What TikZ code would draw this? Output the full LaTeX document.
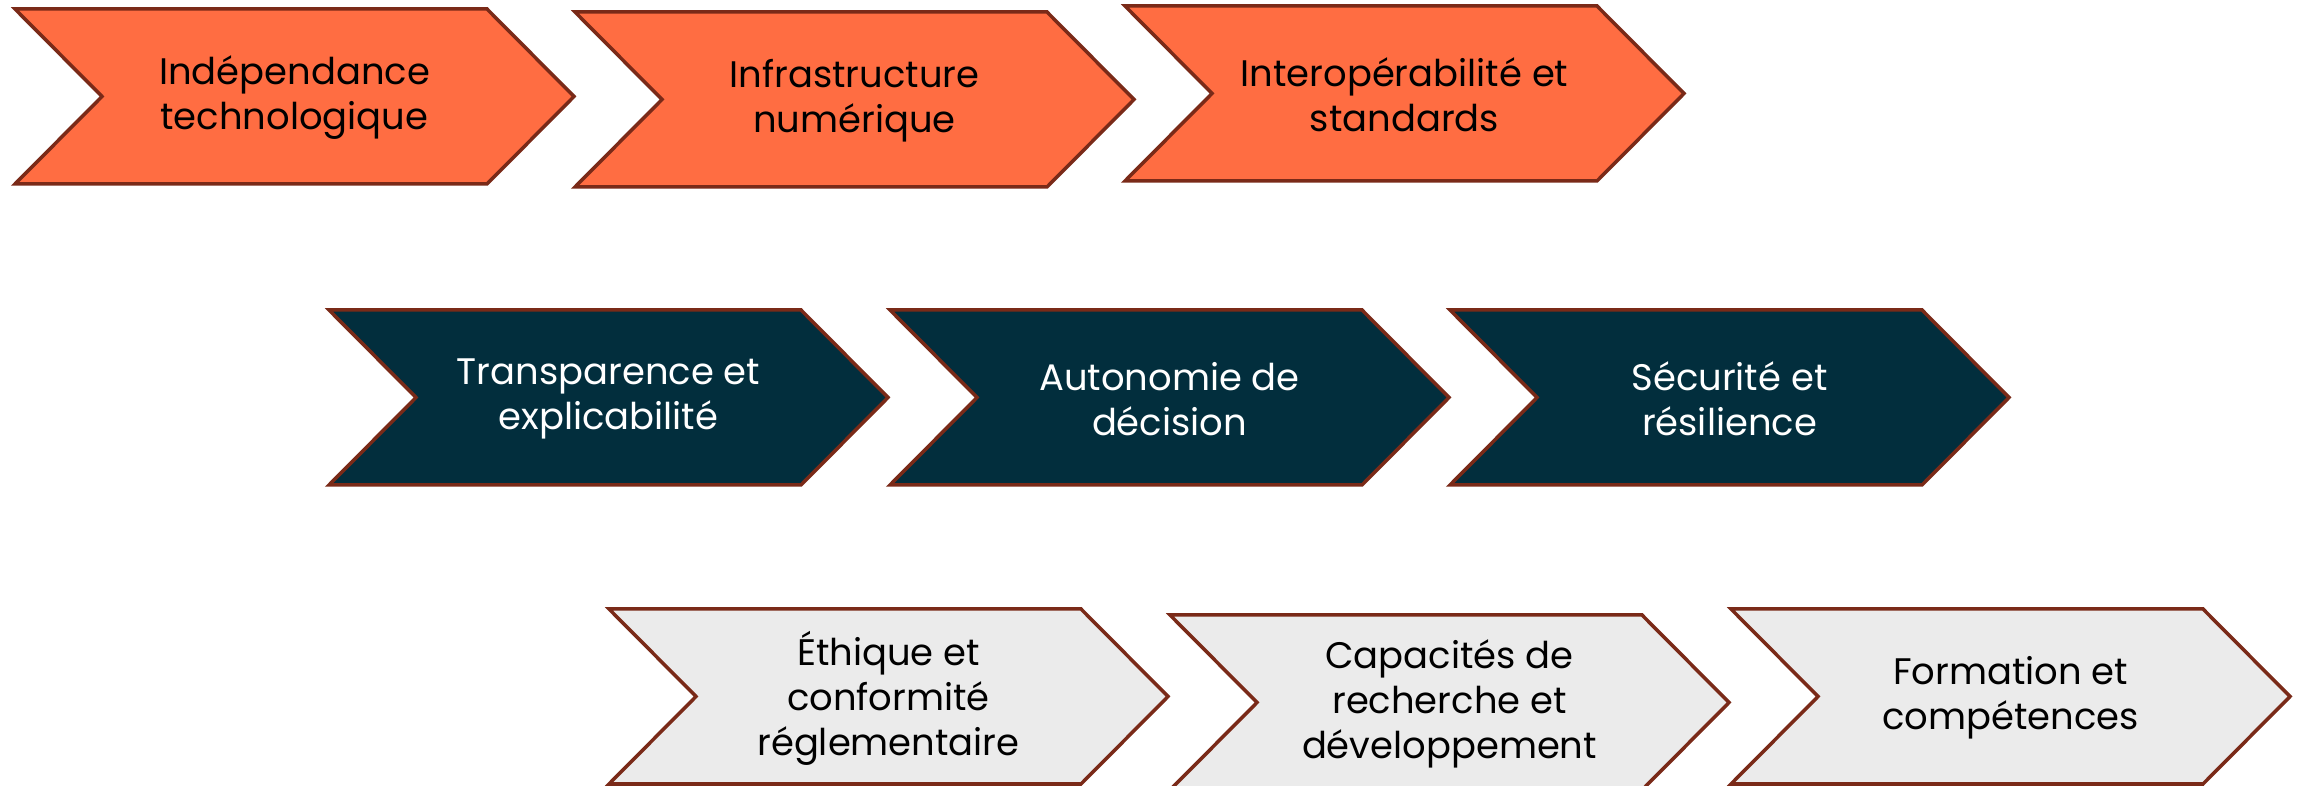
\documentclass[tikz,border=0pt]{standalone}
\usepackage{fontspec}
\setmainfont{Poppins}
\definecolor{chevorange}{HTML}{FF6D42}
\definecolor{chevdark}{HTML}{022E3D}
\definecolor{chevgrey}{HTML}{EBEBEB}
\definecolor{chevedge}{HTML}{7A2A18}
\tikzset{
  orangechev/.style={draw=chevedge, line width=1pt, fill=chevorange},
  darkchev/.style={draw=chevedge, line width=1pt, fill=chevdark},
  greychev/.style={draw=chevedge, line width=1pt, fill=chevgrey},
  chevtext/.style={align=center, font=\fontsize{10.5}{12.8}\selectfont, text=black},
  chevtextw/.style={chevtext, text=white}
}
\begin{document}
\begin{tikzpicture}[x=0.01cm, y=-0.01cm]

		\useasboundingbox (0,0) rectangle (2302,786);

		% first row
		\draw[orangechev] (15,9) -- ++(472,0) -- ++(87,87.5) -- ++(-87,87.5) -- ++(-472,0) -- ++(87,-87.5) -- cycle;
		\draw[orangechev] (575,12) -- ++(472,0) -- ++(87,87.5) -- ++(-87,87.5) -- ++(-472,0) -- ++(87,-87.5) -- cycle;
		\draw[orangechev] (1125,6) -- ++(472,0) -- ++(87,87.5) -- ++(-87,87.5) -- ++(-472,0) -- ++(87,-87.5) -- cycle;

		\node[chevtext] (indep) at (294.5,98) {Indépendance\\technologique};
		\node[chevtext] (infra) at (854.5,101) {Infrastructure\\numérique};
		\node[chevtext] (interop) at (1404.5,95) {Interopérabilité et\\standards};

		% second row
		\draw[darkchev] (329,310) -- ++(472,0) -- ++(87,87.5) -- ++(-87,87.5) -- ++(-472,0) -- ++(87,-87.5) -- cycle;
		\draw[darkchev] (890,310) -- ++(472,0) -- ++(87,87.5) -- ++(-87,87.5) -- ++(-472,0) -- ++(87,-87.5) -- cycle;
		\draw[darkchev] (1450,310) -- ++(472,0) -- ++(87,87.5) -- ++(-87,87.5) -- ++(-472,0) -- ++(87,-87.5) -- cycle;

		\node[chevtextw] (transp) at (608.5,399) {Transparence et\\explicabilité};
		\node[chevtextw] (autonomie) at (1169.5,399) {Autonomie de\\décision};
		\node[chevtextw] (securite) at (1729.5,399) {Sécurité et\\résilience};

		% third row
		\draw[greychev] (609,609) -- ++(472,0) -- ++(87,87.5) -- ++(-87,87.5) -- ++(-472,0) -- ++(87,-87.5) -- cycle;
		\draw[greychev] (1170,615) -- ++(472,0) -- ++(87,87.5) -- ++(-87,87.5) -- ++(-472,0) -- ++(87,-87.5) -- cycle;
		\draw[greychev] (1731,609) -- ++(472,0) -- ++(87,87.5) -- ++(-87,87.5) -- ++(-472,0) -- ++(87,-87.5) -- cycle;

		\node[chevtext] (ethique) at (888.5,698) {Éthique et\\conformité\\réglementaire};
		\node[chevtext] (recherche) at (1449.5,704) {Capacités de\\recherche et\\développement};
		\node[chevtext] (formation) at (2010.5,698) {Formation et\\compétences};

\end{tikzpicture}
\end{document}
